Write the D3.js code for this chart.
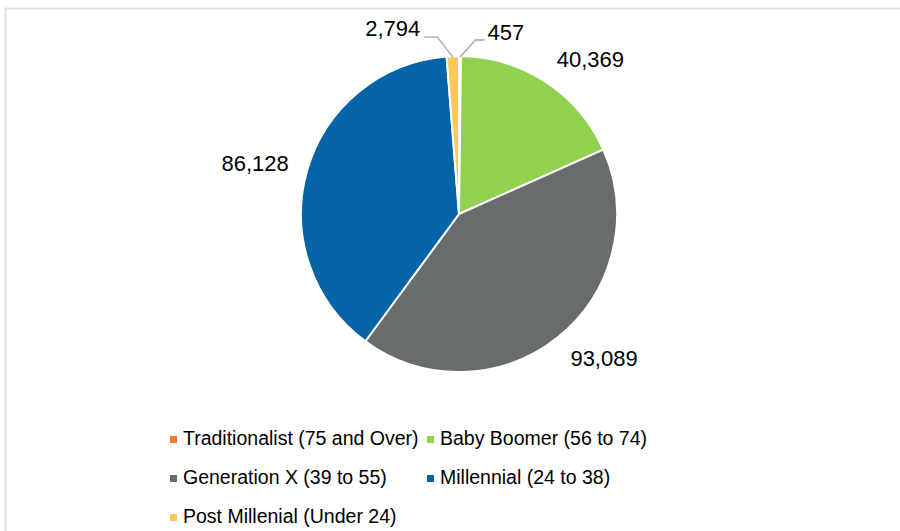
<!DOCTYPE html>
<html>
<head>
<meta charset="utf-8">
<script src="https://cdn.jsdelivr.net/npm/d3@7"></script>
<style>
  html, body { margin: 0; padding: 0; background: #fff; }
  svg { display: block; font-family: "Liberation Sans", Arial, sans-serif; }
</style>
</head>
<body>
<svg id="chart" width="900" height="531"></svg>
<script>
const categories = [
  "Traditionalist (75 and Over)",
  "Baby Boomer (56 to 74)",
  "Generation X (39 to 55)",
  "Millennial (24 to 38)",
  "Post Millenial (Under 24)"
];
const values = [457, 40369, 93089, 86128, 2794];
const colors = ["#ED7D31", "#92D050", "#686C6D", "#0563A8", "#FFC658"];

const svg = d3.select("#chart");
const W = 900, H = 531;

// frame
svg.append("rect").attr("x", 5.5).attr("y", 8.5).attr("width", W + 10).attr("height", H + 10)
  .attr("fill", "#fff").attr("stroke", "#e3e3e3").attr("stroke-width", 2);

const cx = 459, cy = 214, r = 158;
const data = categories.map((c, i) => ({ name: c, value: values[i], color: colors[i] }));

const pie = d3.pie().value(d => d.value).sort(null).startAngle(0).endAngle(2 * Math.PI);
const arcs = pie(data);
const arc = d3.arc().innerRadius(0).outerRadius(r);

const g = svg.append("g").attr("transform", `translate(${cx},${cy})`);
g.selectAll("path.slice").data(arcs).join("path")
  .attr("class", "slice")
  .attr("d", arc)
  .attr("fill", d => d.data.color)
  .attr("stroke", "#fff")
  .attr("stroke-width", 2)
  .attr("stroke-linejoin", "round");

const fmt = d3.format(",");
const total = d3.sum(values);
const labelFont = 22;
const capHalf = labelFont * 0.716 / 2;

arcs.forEach(a => {
  const mid = (a.startAngle + a.endAngle) / 2;
  const s = Math.sin(mid), c = Math.cos(mid);
  const txt = fmt(a.data.value);
  if (a.data.value / total < 0.02) {
    // small slice: leader line to a lifted label
    const side = s >= 0 ? 1 : -1;
    const p0 = [s * (r - 1), -c * (r - 1)];
    const p1 = [p0[0] + side * 15.5, p0[1] - (side > 0 ? 17 : 20)];
    const p2 = [p1[0] + side * (side > 0 ? 9 : 13), p1[1]];
    g.append("polyline")
      .attr("points", [p0, p1, p2].map(p => p.join(",")).join(" "))
      .attr("fill", "none").attr("stroke", "#a6a6a6").attr("stroke-width", 1.3);
    g.append("text")
      .attr("x", p2[0] + side * (side > 0 ? 3 : 4))
      .attr("y", p2[1] + (side > 0 ? 0 : -1))
      .attr("text-anchor", side > 0 ? "start" : "end")
      .attr("font-size", labelFont)
      .attr("fill", "#000")
      .text(txt);
  } else {
    const R = r + 18;
    const px = s * R, py = -c * R;
    const centerY = py - c * 9;
    g.append("text")
      .attr("x", px + (s >= 0 ? 1 : -1))
      .attr("y", centerY + capHalf)
      .attr("text-anchor", s >= 0 ? "start" : "end")
      .attr("font-size", labelFont)
      .attr("fill", "#000")
      .text(txt);
  }
});

// legend
const legFont = 19.5;
const legend = svg.append("g");
const colX = [170, 427];
const rowY = [445, 484, 523];
data.forEach((d, i) => {
  const col = i % 2, row = Math.floor(i / 2);
  const x = colX[col], y = rowY[row];
  legend.append("rect").attr("x", x).attr("y", y - 9).attr("width", 7).attr("height", 7)
    .attr("fill", d.color);
  legend.append("text").attr("x", x + 13).attr("y", y)
    .attr("font-size", legFont).attr("fill", "#000").text(d.name);
});
</script>
</body>
</html>
